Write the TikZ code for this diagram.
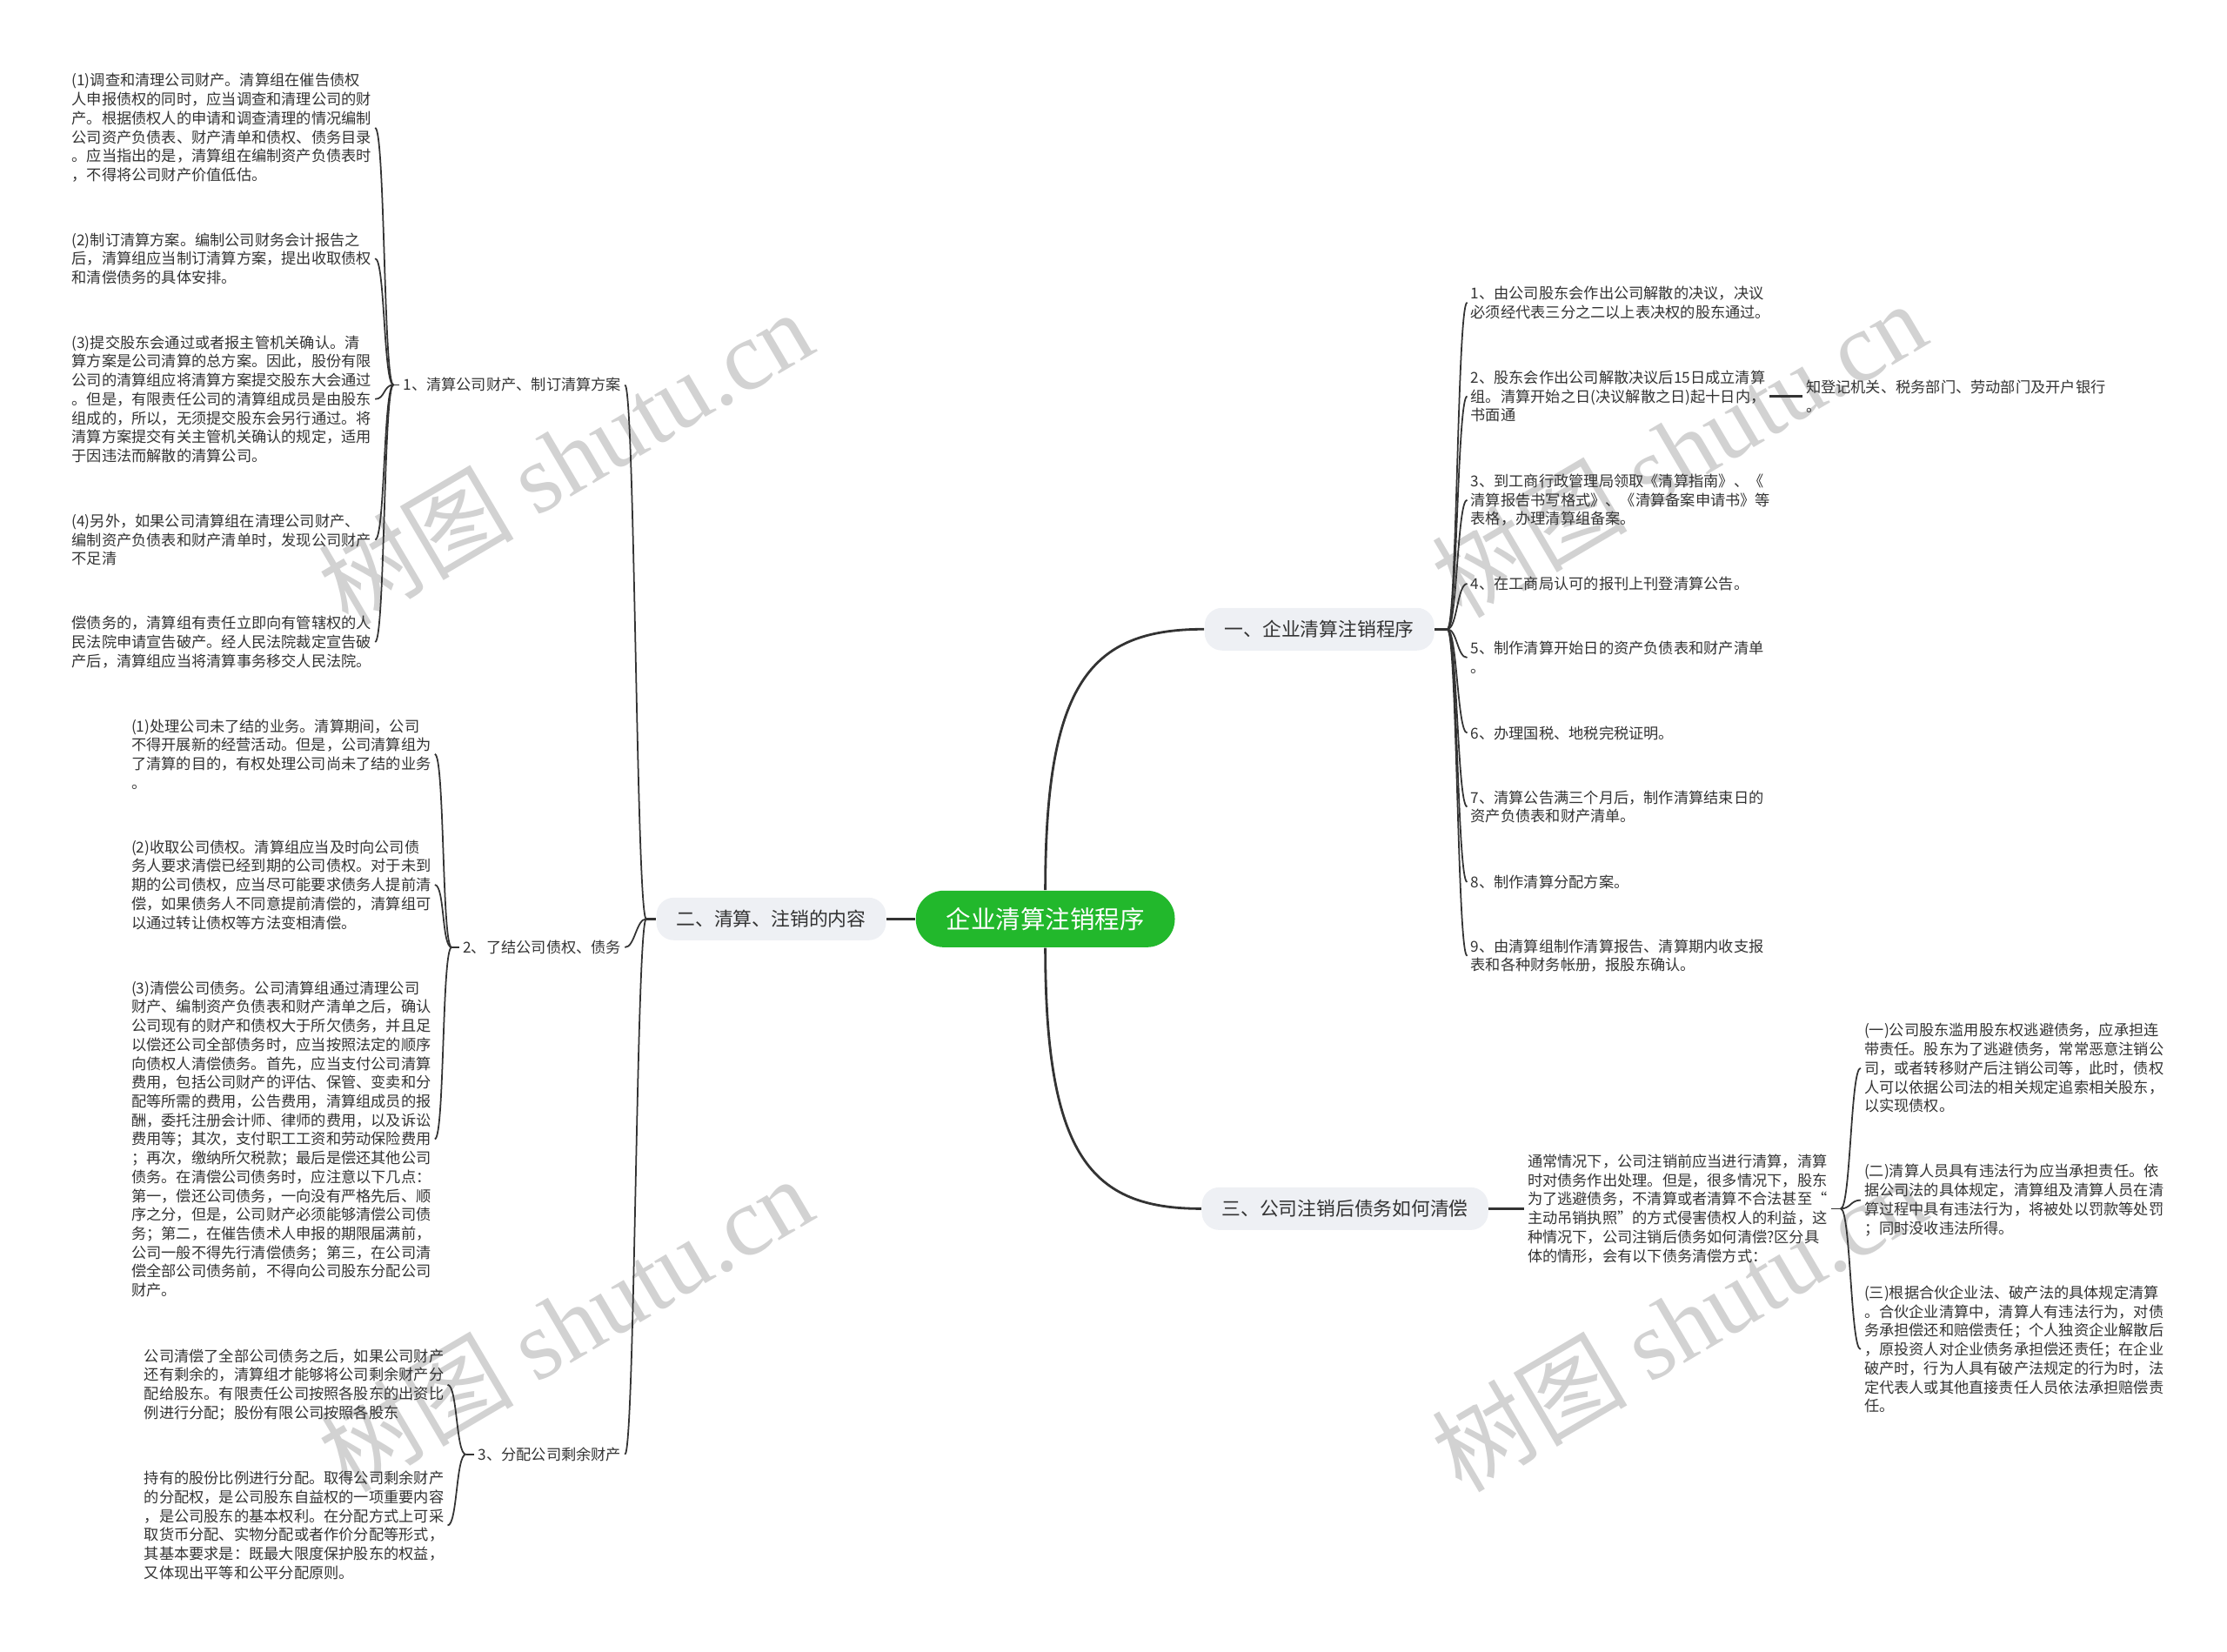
\documentclass[tikz,border=0pt]{standalone}
\usepackage{fontspec}
\setmainfont{Noto Sans CJK SC}
\newfontfamily\wmlatin{Liberation Serif}
\usetikzlibrary{positioning}
\definecolor{rootgreen}{HTML}{22B82C}
\definecolor{branchbg}{HTML}{EEF0F4}
\definecolor{inkgray}{HTML}{333333}
\definecolor{wmgray}{HTML}{D2D2D2}
\tikzset{
  root/.style={fill=rootgreen, text=white, rounded corners=0.32cm, inner xsep=0.35cm,
    minimum height=0.65cm, font=\fontsize{8.1pt}{9pt}\selectfont},
  branch/.style={fill=branchbg, text=inkgray, rounded corners=0.2cm, inner xsep=0.23cm,
    minimum height=0.49cm, font=\fontsize{6.2pt}{7pt}\selectfont},
  leaf/.style={text=inkgray, align=left, inner sep=1pt, font=\fontsize{4.9pt}{6.18pt}\selectfont},
  trunk/.style={draw=inkgray, line width=0.8pt},
  link/.style={draw=inkgray, line width=0.5pt},
  wm/.style={text=wmgray, rotate=30.5, inner sep=0pt, font=\fontsize{32pt}{34pt}\selectfont}
}

\begin{document}
\begin{tikzpicture}[x=0.016327cm, y=-0.016327cm]
  \useasboundingbox (0,0) rectangle (1568,1163);
  % watermarks
  \node[wm] (wm1) at (398,322) {树图 {\wmlatin shutu.cn}};
  \node[wm] (wm2) at (398,932) {树图 {\wmlatin shutu.cn}};
  \node[wm] (wm3) at (1182,316) {树图 {\wmlatin shutu.cn}};
  \node[wm] (wm4) at (1182,932) {树图 {\wmlatin shutu.cn}};

  % centre and main branches
  \node[root] (root) at (736,647) {企业清算注销程序};
  \node[branch] (b1) at (929,443) {一、企业清算注销程序};
  \node[branch] (b2) at (543,647) {二、清算、注销的内容};
  \node[branch] (b3) at (947,851) {三、公司注销后债务如何清偿};
  \draw[trunk] (root.north) .. controls (736,480) and (768,443) .. (b1.west);
  \draw[trunk] (root.south) .. controls (736,814) and (768,851) .. (b3.west);
  \draw[trunk] (root.west) -- (b2.east);

  % branch one: steps
  \node[leaf, anchor=west] (r1) at (1033,213) {1、由公司股东会作出公司解散的决议，决议\\必须经代表三分之二以上表决权的股东通过。};
  \node[leaf, anchor=west] (r2) at (1033,279) {2、股东会作出公司解散决议后15日成立清算\\组。清算开始之日(决议解散之日)起十日内，\\书面通};
  \node[leaf, anchor=west] (r2a) at (1269,279) {知登记机关、税务部门、劳动部门及开户银行\\。};
  \node[leaf, anchor=west] (r3) at (1033,352) {3、到工商行政管理局领取《清算指南》、《\\清算报告书写格式》、《清算备案申请书》等\\表格，办理清算组备案。};
  \node[leaf, anchor=west] (r4) at (1033,411) {4、在工商局认可的报刊上刊登清算公告。};
  \node[leaf, anchor=west] (r5) at (1033,463) {5、制作清算开始日的资产负债表和财产清单\\。};
  \node[leaf, anchor=west] (r6) at (1033,516) {6、办理国税、地税完税证明。};
  \node[leaf, anchor=west] (r7) at (1033,568) {7、清算公告满三个月后，制作清算结束日的\\资产负债表和财产清单。};
  \node[leaf, anchor=west] (r8) at (1033,621) {8、制作清算分配方案。};
  \node[leaf, anchor=west] (r9) at (1033,673) {9、由清算组制作清算报告、清算期内收支报\\表和各种财务帐册，报股东确认。};
  \coordinate (b1s) at (1019,443);
  \draw[trunk] (b1.east) -- (b1s);
  \draw[link] (b1s) .. controls +(7,0) and +(-7,0) .. (r1.west);
  \draw[link] (b1s) .. controls +(7,0) and +(-7,0) .. (r2.west);
  \draw[link] (b1s) .. controls +(7,0) and +(-7,0) .. (r3.west);
  \draw[link] (b1s) .. controls +(7,0) and +(-7,0) .. (r4.west);
  \draw[link] (b1s) .. controls +(7,0) and +(-7,0) .. (r5.west);
  \draw[link] (b1s) .. controls +(7,0) and +(-7,0) .. (r6.west);
  \draw[link] (b1s) .. controls +(7,0) and +(-7,0) .. (r7.west);
  \draw[link] (b1s) .. controls +(7,0) and +(-7,0) .. (r8.west);
  \draw[link] (b1s) .. controls +(7,0) and +(-7,0) .. (r9.west);
  \draw[trunk] (r2.east) -- (r2a.west);

  % branch two: sub topics
  \node[leaf, anchor=east] (l1) at (440,271) {1、清算公司财产、制订清算方案};
  \node[leaf, anchor=east] (l2) at (440,667) {2、了结公司债权、债务};
  \node[leaf, anchor=east] (l3) at (440,1024) {3、分配公司剩余财产};
  \coordinate (b2s) at (455,647);
  \draw[trunk] (b2.west) -- (b2s);
  \draw[link] (b2s) .. controls +(-7,0) and +(7,0) .. (l1.east);
  \draw[link] (b2s) .. controls +(-7,0) and +(7,0) .. (l2.east);
  \draw[link] (b2s) .. controls +(-7,0) and +(7,0) .. (l3.east);

  % 1 - property and plan
  \node[leaf, anchor=west] (p1) at (48,90) {(1)调查和清理公司财产。清算组在催告债权\\人申报债权的同时，应当调查和清理公司的财\\产。根据债权人的申请和调查清理的情况编制\\公司资产负债表、财产清单和债权、债务目录\\。应当指出的是，清算组在编制资产负债表时\\，不得将公司财产价值低估。};
  \node[leaf, anchor=west] (p2) at (48,182) {(2)制订清算方案。编制公司财务会计报告之\\后，清算组应当制订清算方案，提出收取债权\\和清偿债务的具体安排。};
  \node[leaf, anchor=west] (p3) at (48,281) {(3)提交股东会通过或者报主管机关确认。清\\算方案是公司清算的总方案。因此，股份有限\\公司的清算组应将清算方案提交股东大会通过\\。但是，有限责任公司的清算组成员是由股东\\组成的，所以，无须提交股东会另行通过。将\\清算方案提交有关主管机关确认的规定，适用\\于因违法而解散的清算公司。};
  \node[leaf, anchor=west] (p4) at (48,380) {(4)另外，如果公司清算组在清理公司财产、\\编制资产负债表和财产清单时，发现公司财产\\不足清};
  \node[leaf, anchor=west] (p5) at (48,452) {偿债务的，清算组有责任立即向有管辖权的人\\民法院申请宣告破产。经人民法院裁定宣告破\\产后，清算组应当将清算事务移交人民法院。};
  \coordinate (l1s) at (277,271);
  \draw[link] (l1.west) -- (l1s);
  \draw[link] (l1s) .. controls +(-7,0) and +(7,0) .. (p1.east);
  \draw[link] (l1s) .. controls +(-7,0) and +(7,0) .. (p2.east);
  \draw[link] (l1s) .. controls +(-7,0) and +(7,0) .. (p3.east);
  \draw[link] (l1s) .. controls +(-7,0) and +(7,0) .. (p4.east);
  \draw[link] (l1s) .. controls +(-7,0) and +(7,0) .. (p5.east);

  % 2 - claims and debts
  \node[leaf, anchor=west] (q1) at (90,531) {(1)处理公司未了结的业务。清算期间，公司\\不得开展新的经营活动。但是，公司清算组为\\了清算的目的，有权处理公司尚未了结的业务\\。};
  \node[leaf, anchor=west] (q2) at (90,623) {(2)收取公司债权。清算组应当及时向公司债\\务人要求清偿已经到期的公司债权。对于未到\\期的公司债权，应当尽可能要求债务人提前清\\偿，如果债务人不同意提前清偿的，清算组可\\以通过转让债权等方法变相清偿。};
  \node[leaf, anchor=west] (q3) at (90,802) {(3)清偿公司债务。公司清算组通过清理公司\\财产、编制资产负债表和财产清单之后，确认\\公司现有的财产和债权大于所欠债务，并且足\\以偿还公司全部债务时，应当按照法定的顺序\\向债权人清偿债务。首先，应当支付公司清算\\费用，包括公司财产的评估、保管、变卖和分\\配等所需的费用，公告费用，清算组成员的报\\酬，委托注册会计师、律师的费用，以及诉讼\\费用等；其次，支付职工工资和劳动保险费用\\；再次，缴纳所欠税款；最后是偿还其他公司\\债务。在清偿公司债务时，应注意以下几点：\\第一，偿还公司债务，一向没有严格先后、顺\\序之分，但是，公司财产必须能够清偿公司债\\务；第二，在催告债术人申报的期限届满前，\\公司一般不得先行清偿债务；第三，在公司清\\偿全部公司债务前，不得向公司股东分配公司\\财产。};
  \coordinate (l2s) at (318,667);
  \draw[link] (l2.west) -- (l2s);
  \draw[link] (l2s) .. controls +(-7,0) and +(7,0) .. (q1.east);
  \draw[link] (l2s) .. controls +(-7,0) and +(7,0) .. (q2.east);
  \draw[link] (l2s) .. controls +(-7,0) and +(7,0) .. (q3.east);

  % 3 - remaining property
  \node[leaf, anchor=west] (s1) at (99,975) {公司清偿了全部公司债务之后，如果公司财产\\还有剩余的，清算组才能够将公司剩余财产分\\配给股东。有限责任公司按照各股东的出资比\\例进行分配；股份有限公司按照各股东};
  \node[leaf, anchor=west] (s2) at (99,1074) {持有的股份比例进行分配。取得公司剩余财产\\的分配权，是公司股东自益权的一项重要内容\\，是公司股东的基本权利。在分配方式上可采\\取货币分配、实物分配或者作价分配等形式，\\其基本要求是：既最大限度保护股东的权益，\\又体现出平等和公平分配原则。};
  \coordinate (l3s) at (328,1024);
  \draw[link] (l3.west) -- (l3s);
  \draw[link] (l3s) .. controls +(-7,0) and +(7,0) .. (s1.east);
  \draw[link] (l3s) .. controls +(-7,0) and +(7,0) .. (s2.east);

  % branch three: debts after deregistration
  \node[leaf, anchor=west] (t0) at (1073,851) {通常情况下，公司注销前应当进行清算，清算\\时对债务作出处理。但是，很多情况下，股东\\为了逃避债务，不清算或者清算不合法甚至“\\主动吊销执照”的方式侵害债权人的利益，这\\种情况下，公司注销后债务如何清偿?区分具\\体的情形，会有以下债务清偿方式：};
  \draw[trunk] (b3.east) -- (t0.west);
  \node[leaf, anchor=west] (t1) at (1310,752) {(一)公司股东滥用股东权逃避债务，应承担连\\带责任。股东为了逃避债务，常常恶意注销公\\司，或者转移财产后注销公司等，此时，债权\\人可以依据公司法的相关规定追索相关股东，\\以实现债权。};
  \node[leaf, anchor=west] (t2) at (1310,845) {(二)清算人员具有违法行为应当承担责任。依\\据公司法的具体规定，清算组及清算人员在清\\算过程中具有违法行为，将被处以罚款等处罚\\；同时没收违法所得。};
  \node[leaf, anchor=west] (t3) at (1310,950) {(三)根据合伙企业法、破产法的具体规定清算\\。合伙企业清算中，清算人有违法行为，对债\\务承担偿还和赔偿责任；个人独资企业解散后\\，原投资人对企业债务承担偿还责任；在企业\\破产时，行为人具有破产法规定的行为时，法\\定代表人或其他直接责任人员依法承担赔偿责\\任。};
  \coordinate (t0s) at (1296,851);
  \draw[link] (t0.east) -- (t0s);
  \draw[link] (t0s) .. controls +(7,0) and +(-7,0) .. (t1.west);
  \draw[link] (t0s) .. controls +(7,0) and +(-7,0) .. (t2.west);
  \draw[link] (t0s) .. controls +(7,0) and +(-7,0) .. (t3.west);
\end{tikzpicture}
\end{document}
